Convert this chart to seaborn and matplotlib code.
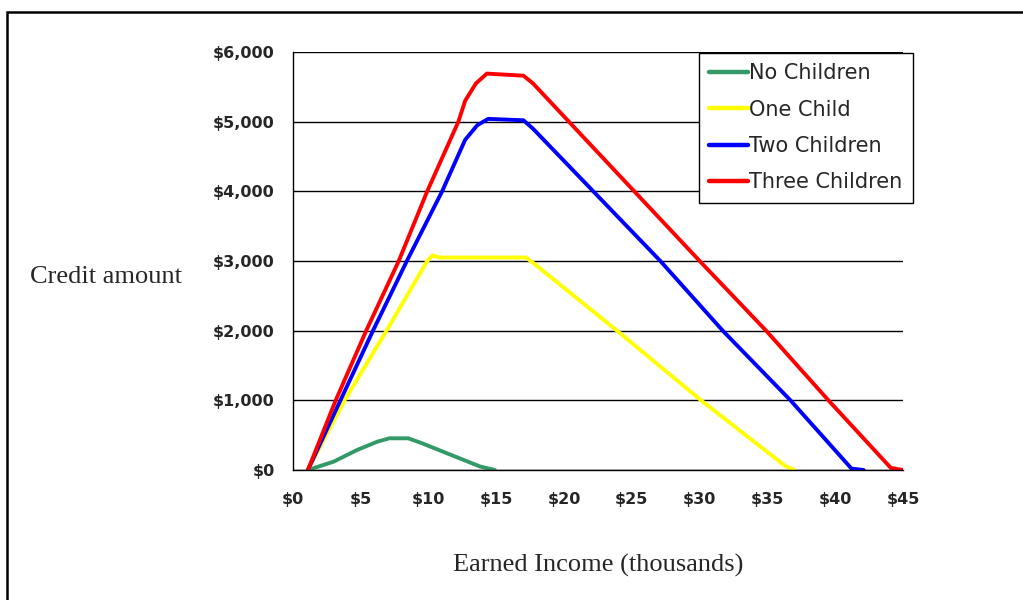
import matplotlib
matplotlib.use("Agg")
import matplotlib.pyplot as plt
import matplotlib.patches as mpatches
import pandas as pd
import seaborn as sns

# Earned income (thousands of dollars) and credit amount (dollars) per family type
no_children_x = [1.1, 3.0, 4.7, 6.2, 7.1, 8.5, 9.5, 12.0, 13.8, 14.9]
no_children_y = [0, 120, 285, 405, 455, 455, 385, 190, 50, 0]

one_child_x = [1.1, 3.8, 6.9, 9.9, 10.3, 10.8, 17.2, 17.8, 23.9, 30.1, 36.3, 37.0]
one_child_y = [0, 1000, 2000, 3000, 3080, 3050, 3050, 2960, 2000, 1000, 60, 0]

two_children_x = [1.1, 3.5, 5.9, 8.4, 11.0, 12.7, 13.6, 14.4, 17.0, 17.7,
                  27.1, 31.7, 36.7, 41.2, 42.1]
two_children_y = [0, 1000, 2000, 3000, 4000, 4740, 4950, 5040, 5020, 4900,
                  3000, 2000, 1000, 20, 0]

three_children_x = [1.1, 3.15, 5.4, 7.8, 9.9, 12.2, 12.7, 13.5, 14.3,
                    17.0, 17.7, 30.0, 34.9, 39.5, 44.1, 45.0]
three_children_y = [0, 1000, 2000, 3000, 4000, 5000, 5300, 5550, 5690,
                    5660, 5550, 3000, 2000, 1000, 30, 0]

series_names = ["No Children", "One Child", "Two Children", "Three Children"]
series_colors = ["#339966", "#FFFF00", "#0000FF", "#FF0000"]

x_ticks = [0, 5, 10, 15, 20, 25, 30, 35, 40, 45]
x_tick_labels = ["$0", "$5", "$10", "$15", "$20", "$25", "$30", "$35", "$40", "$45"]
y_ticks = [0, 1000, 2000, 3000, 4000, 5000, 6000]
y_tick_labels = ["$0", "$1,000", "$2,000", "$3,000", "$4,000", "$5,000", "$6,000"]

frames = []
for name, xs, ys in zip(series_names,
                        [no_children_x, one_child_x, two_children_x, three_children_x],
                        [no_children_y, one_child_y, two_children_y, three_children_y]):
    frames.append(pd.DataFrame({"income": xs, "credit": ys, "family": name}))
df = pd.concat(frames, ignore_index=True)

sns.set_theme(style="white")
plt.rcParams["font.family"] = ["DejaVu Sans"]

W, H = 1023, 600
fig = plt.figure(figsize=(W / 100, H / 100), dpi=100)
fig.patch.set_facecolor("white")

ax = fig.add_axes([293 / W, 1 - 470 / H, 610 / W, 418 / H])
sns.lineplot(data=df, x="income", y="credit", hue="family",
             hue_order=series_names, palette=series_colors,
             estimator=None, sort=False, linewidth=2.8, ax=ax)

ax.set_xlim(0, 45)
ax.set_ylim(0, 6000)
ax.set_xticks(x_ticks)
ax.set_xticklabels(x_tick_labels, fontweight="bold", fontsize=11.5)
ax.set_yticks(y_ticks)
ax.set_yticklabels(y_tick_labels, fontweight="bold", fontsize=11.5)
ax.set_xlabel("")
ax.set_ylabel("")

ax.yaxis.grid(True, color="black", linewidth=1.0)
ax.xaxis.grid(False)
ax.set_axisbelow(True)
for side in ["top", "right"]:
    ax.spines[side].set_visible(False)
for side in ["left", "bottom"]:
    ax.spines[side].set_color("black")
    ax.spines[side].set_linewidth(1.0)
ax.tick_params(axis="x", direction="out", length=6, width=1, color="black", pad=10)
ax.tick_params(axis="y", direction="out", length=5, width=1, color="black", pad=8)

handles, labels = ax.get_legend_handles_labels()
leg = ax.legend(handles, labels, loc="upper left",
                bbox_to_anchor=(699 / W, 1 - 53 / H), bbox_transform=fig.transFigure,
                frameon=True, fancybox=False, edgecolor="black", framealpha=1,
                fontsize=15, handlelength=1.85, handletextpad=0.05,
                labelspacing=0.78, borderpad=0.5, borderaxespad=0)
leg.get_frame().set_linewidth(1.0)
for line in leg.get_lines():
    line.set_linewidth(3.2)

fig.text(106 / W, 1 - 277 / H, "Credit amount", family="Liberation Serif",
         fontsize=19, ha="center", va="center")
fig.text(598 / W, 1 - 565 / H, "Earned Income (thousands)", family="Liberation Serif",
         fontsize=19, ha="center", va="center")

# Page border around the chart
fig.patches.append(mpatches.Rectangle((7 / W, -0.2), 1.5, 1.2 - 12 / H,
                                      transform=fig.transFigure, fill=False,
                                      edgecolor="black", linewidth=1.8))

fig.savefig("out.png", dpi=100)
